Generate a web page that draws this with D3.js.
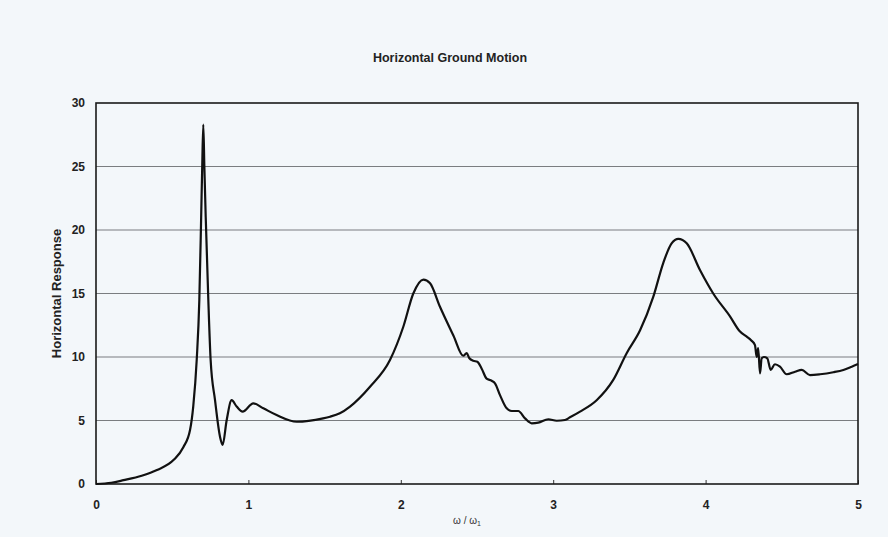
<!DOCTYPE html>
<html>
<head>
<meta charset="utf-8">
<script src="https://cdn.jsdelivr.net/npm/d3@7"></script>
<style>
  html, body { margin: 0; padding: 0; background: #f3f7fa; }
  svg { display: block; font-family: "Liberation Sans", Arial, sans-serif; }
</style>
</head>
<body>
<div id="chart"></div>
<script>
// frequency ratio w / w1 and horizontal response
const omega = [
  0.00, 0.10, 0.18, 0.30, 0.40, 0.51, 0.573, 0.617, 0.638, 0.661, 0.678, 0.690, 0.697, 0.704,
  0.711, 0.720, 0.737, 0.752, 0.781, 0.814, 0.831, 0.857, 0.890, 0.923, 0.962, 1.032, 1.098,
  1.185, 1.317, 1.49, 1.535, 1.60, 1.667, 1.798, 1.929, 2.017, 2.082, 2.148, 2.192, 2.257,
  2.345, 2.41, 2.432, 2.450, 2.476, 2.502, 2.530, 2.563, 2.596, 2.618, 2.651, 2.695, 2.728,
  2.771, 2.815, 2.859, 2.902, 2.968, 3.023, 3.077, 3.11, 3.176, 3.285, 3.394, 3.482, 3.570,
  3.657, 3.722, 3.777, 3.821, 3.876, 3.963, 4.05, 4.16, 4.226, 4.27, 4.30, 4.324, 4.335,
  4.345, 4.357, 4.368, 4.383, 4.405, 4.427, 4.455, 4.488, 4.532, 4.587, 4.631, 4.685, 4.751,
  4.838, 4.904, 4.959, 5.00
];
const response = [
  0.00, 0.10, 0.30, 0.65, 1.10, 1.90, 2.90, 4.25, 6.10, 9.80, 14.5, 21.0, 25.0, 28.3,
  25.0, 21.0, 14.5, 9.80, 6.60, 3.70, 3.07, 5.00, 6.60, 6.10, 5.70, 6.35, 5.96,
  5.43, 4.90, 5.17, 5.30, 5.57, 6.10, 7.66, 9.76, 12.4, 15.0, 16.1, 15.8, 13.96,
  11.7, 10.1, 10.3, 9.90, 9.70, 9.63, 9.10, 8.30, 8.13, 7.93, 7.00, 5.96, 5.75,
  5.75, 5.17, 4.78, 4.83, 5.10, 4.98, 5.04, 5.25, 5.70, 6.60, 8.20, 10.3, 12.1,
  14.75, 17.4, 18.95, 19.3, 18.95, 16.85, 15.0, 13.2, 12.0, 11.6, 11.3, 10.94, 10.0,
  10.7, 8.70, 9.90, 10.0, 9.90, 8.98, 9.43, 9.24, 8.64, 8.84, 8.98, 8.58, 8.64,
  8.80, 8.98, 9.24, 9.45
];
const xTicks = [0, 1, 2, 3, 4, 5];
const yTicks = [0, 5, 10, 15, 20, 25, 30];

const width = 888, height = 537;
const margin = { top: 103, right: 30, bottom: 53, left: 96 };

const svg = d3.select('#chart')
  .append('svg')
  .attr('width', width)
  .attr('height', height);

svg.append('rect')
  .attr('width', width)
  .attr('height', height)
  .attr('fill', '#f3f7fa');

const x = d3.scaleLinear().domain([0, 5]).range([margin.left, width - margin.right]);
const y = d3.scaleLinear().domain([0, 30]).range([height - margin.bottom, margin.top]);

// horizontal grid lines
svg.append('g')
  .selectAll('line')
  .data(yTicks.slice(1, -1))
  .join('line')
  .attr('x1', x(0))
  .attr('x2', x(5))
  .attr('y1', d => y(d))
  .attr('y2', d => y(d))
  .attr('stroke', '#7a7d80')
  .attr('stroke-width', 1.2);

// x axis, small ticks pointing up into the plot
const xAxis = svg.append('g')
  .attr('transform', `translate(0,${y(0)})`)
  .call(d3.axisBottom(x).tickValues(xTicks).tickSizeInner(-4).tickSizeOuter(0).tickPadding(16).tickFormat(d3.format('d')));
xAxis.select('.domain').remove();
xAxis.selectAll('.tick line').attr('stroke', '#333').attr('stroke-width', 1);
xAxis.selectAll('.tick text')
  .attr('font-size', 12).attr('font-weight', 'bold').attr('fill', '#222')
  .attr('font-family', '"Liberation Sans", Arial, sans-serif');

const yAxis = svg.append('g')
  .attr('transform', `translate(${x(0)},0)`)
  .call(d3.axisLeft(y).tickValues(yTicks).tickSize(0).tickPadding(11));
yAxis.select('.domain').remove();
yAxis.selectAll('.tick text')
  .attr('font-size', 12).attr('font-weight', 'bold').attr('fill', '#222')
  .attr('font-family', '"Liberation Sans", Arial, sans-serif');

// plot frame
svg.append('rect')
  .attr('x', x(0))
  .attr('y', y(30))
  .attr('width', x(5) - x(0))
  .attr('height', y(0) - y(30))
  .attr('fill', 'none')
  .attr('stroke', '#1a1a1a')
  .attr('stroke-width', 1.6);

const line = d3.line()
  .x((d, i) => x(omega[i]))
  .y(d => y(d))
  .curve(d3.curveMonotoneX);

svg.append('path')
  .datum(response)
  .attr('d', line)
  .attr('fill', 'none')
  .attr('stroke', '#111')
  .attr('stroke-width', 2.2)
  .attr('stroke-linejoin', 'round');

// labels
svg.append('text')
  .attr('x', 450)
  .attr('y', 62)
  .attr('text-anchor', 'middle')
  .attr('font-size', 12.5)
  .attr('font-weight', 'bold')
  .attr('fill', '#222')
  .text('Horizontal Ground Motion');

svg.append('text')
  .attr('transform', `translate(61,${(y(0) + y(30)) / 2}) rotate(-90)`)
  .attr('text-anchor', 'middle')
  .attr('font-size', 13)
  .attr('font-weight', 'bold')
  .attr('fill', '#222')
  .text('Horizontal Response');

const xl = svg.append('text')
  .attr('x', 467)
  .attr('y', 524)
  .attr('text-anchor', 'middle')
  .attr('font-size', 10)
  .attr('fill', '#333');
xl.append('tspan').text('ω / ω');
xl.append('tspan').attr('font-size', 7).attr('dy', 2).text('1');
</script>
</body>
</html>
